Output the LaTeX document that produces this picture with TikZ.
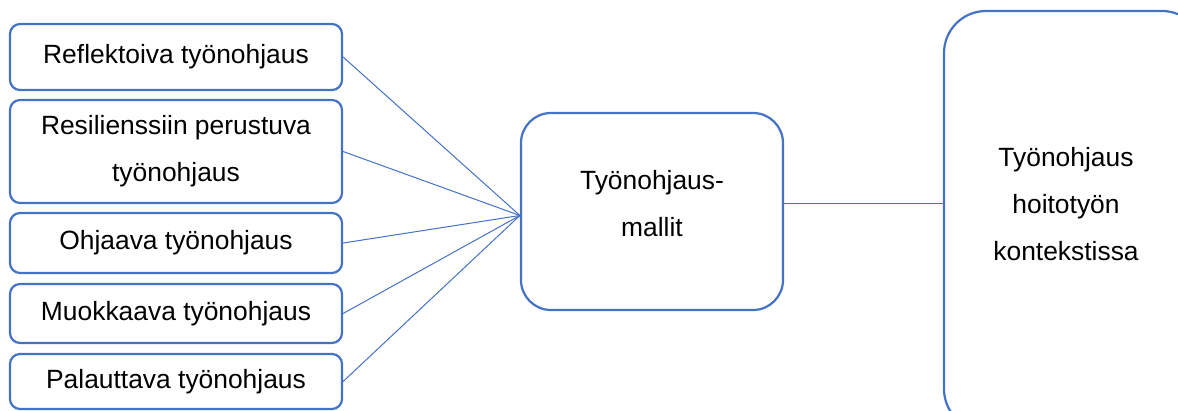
\documentclass[tikz,border=0pt]{standalone}
\usepackage{fontspec}
\setmainfont{Liberation Sans}
\usetikzlibrary{calc}
\begin{document}
\begin{tikzpicture}[x=1pt,y=1pt,
  txt/.style={align=center, inner sep=0pt, font=\fontsize{26.4}{47}\selectfont},
  box/.style={txt, draw=boxblue, line width=2.2pt, fill=white},
  small/.style={box, rounded corners=10pt, minimum width=332pt},
  link/.style={draw=boxblue, line width=1pt}]
\definecolor{boxblue}{HTML}{4472C4}
\useasboundingbox (0,0) rectangle (1178,410);
\clip (0,0) rectangle (1178,410);
% model boxes on the left
\node[small, minimum height=66pt] (m1) at (176,353) {Reflektoiva työnohjaus};
\node[small, minimum height=103pt] (m2) at (176,258.5) {Resilienssiin perustuva\\työnohjaus};
\node[small, minimum height=60pt] (m3) at (176,167) {Ohjaava työnohjaus};
\node[small, minimum height=59pt] (m4) at (176,96.5) {Muokkaava työnohjaus};
\node[small, minimum height=55pt] (m5) at (176,28.5) {Palauttava työnohjaus};
% central box with its caption set a little above centre
\node[box, rounded corners=30pt, minimum width=262pt, minimum height=197pt] (mid) at (652,198.5) {};
\node[txt] (midtext) at ($(mid.center)+(0,8)$) {Työnohjaus-\\mallit};
% context box, running past the right and bottom edges
\node[box, rounded corners=42pt, minimum width=260pt, minimum height=420pt] (ctx) at (1074,189) {};
\node[txt] (ctxtext) at ($(ctx.center)+(-8,17)$) {Työnohjaus\\hoitotyön\\kontekstissa};
% connectors
\coordinate (hub) at ($(mid.west)+(0,-4)$);
\coordinate (out) at ($(mid.east)+(0,8)$);
\coordinate (in) at (ctx.west |- out);
\foreach \m in {m1,m2,m3,m4,m5} \draw[link] (\m.east) -- (hub);
\draw[link] (out) -- (in);
\end{tikzpicture}
\end{document}
